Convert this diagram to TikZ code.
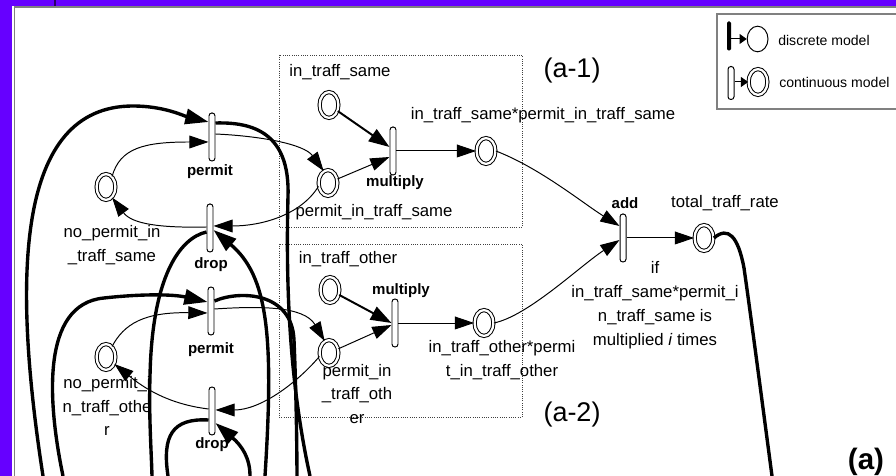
\documentclass[tikz,border=0pt]{standalone}
\usepackage{fontspec}
\setmainfont{Liberation Sans}
\usetikzlibrary{arrows.meta, shapes.geometric}

\definecolor{slidebg}{RGB}{102,0,255}
\definecolor{framegray}{RGB}{128,128,128}

\tikzset{
    placenode/.style = {ellipse, draw, double, double distance = 1.6pt, line width = 0.7pt,
        fill = white, minimum width = 0.47cm, minimum height = 0.645cm, inner sep = 0pt},
    barnode/.style = {rectangle, rounded corners = 2pt, draw, line width = 0.7pt, fill = white,
        minimum width = 0.15cm, minimum height = 1.2cm, inner sep = 0pt},
    thinarc/.style = {line width = 0.7pt, -{Triangle[length = 0.48cm, width = 0.32cm]}},
    midarc/.style = {line width = 1.4pt, -{Triangle[length = 0.52cm, width = 0.36cm]}},
    thickline/.style = {line width = 2.4pt},
    thickarc/.style = {thickline, -{Triangle[length = 0.58cm, width = 0.38cm]}},
    legarc/.style = {line width = 0.7pt, -{Triangle[length = 0.18cm, width = 0.25cm]}},
    dotbox/.style = {densely dotted, line width = 0.6pt, black!75},
    lbl/.style = {font = \fontsize{11.9}{17}\selectfont, align = center, inner sep = 0pt},
    blbl/.style = {font = \fontsize{10.7}{12}\selectfont\bfseries, inner sep = 0pt},
    legtext/.style = {font = \fontsize{10}{12}\selectfont, inner sep = 0pt, anchor = west},
}

\begin{document}
\begin{tikzpicture}
    \useasboundingbox (0, 0) rectangle (22.4, 11.9);
    \clip (0, 0) rectangle (22.4, 11.9);

    % Slide frame
    \fill[slidebg] (+0.000, +0.000) rectangle (+22.400, +11.900);
    \fill[white] (+0.300, +0.000) rectangle (+22.400, +11.750);
    \draw[framegray, line width = 1.2pt] (+0.365, +0.000) -- (+0.365, +11.720) -- (+22.400, +11.720);
    \draw[black!60!slidebg, line width = 0.8pt] (+1.375, +11.750) -- (+1.375, +11.900);

    % Sub-model boxes
    \draw[dotbox] (+6.975, +10.525) rectangle (+13.050, +6.225);
    \draw[dotbox] (+6.975, +5.800) rectangle (+13.050, +1.475);
    \node[font = \fontsize{19.2}{22}\selectfont] (subA) at (+14.300, +10.125) {(a-1)};
    \node[font = \fontsize{19.2}{22}\selectfont] (subB) at (+14.300, +1.525) {(a-2)};
    \node[font = \fontsize{21}{24}\selectfont\bfseries] (part) at (+21.650, +0.350) {(a)};

    % === Legend ===
    \draw[framegray, line width = 1pt] (+17.925, +9.175) rectangle (+22.700, +11.550);
    \node[rectangle, fill = black, rounded corners = 1pt, minimum width = 0.1cm,
        minimum height = 0.725cm, inner sep = 0pt] (discbar) at (+18.225, +11.000) {};
    \node[ellipse, draw, line width = 0.7pt, minimum width = 0.52cm, minimum height = 0.64cm,
        inner sep = 0pt] (disccirc) at (+18.940, +10.925) {};
    \draw[legarc] (discbar.east |- disccirc.west) -- (disccirc.west);
    \node[legtext] (disctext) at (+19.450, +10.900) {discrete model};

    \node[barnode, minimum height = 0.825cm] (contbar) at (+18.275, +9.825) {};
    \node[placenode] (contcirc) at (+18.950, +9.850) {};
    \draw[legarc] (contbar.east |- contcirc.west) -- (contcirc.west);
    \node[legtext] (conttext) at (+19.475, +9.850) {continuous model};

    % === Places ===
    \node[placenode] (npsame) at (+2.650, +7.225) {};
    \node[placenode] (npother) at (+2.650, +2.975) {};
    \node[placenode] (insame) at (+8.225, +9.275) {};
    \node[placenode] (pisame) at (+8.200, +7.325) {};
    \node[placenode] (prodsame) at (+12.150, +8.125) {};
    \node[placenode] (inother) at (+8.250, +4.650) {};
    \node[placenode] (piother) at (+8.225, +3.075) {};
    \node[placenode] (prodother) at (+12.100, +3.825) {};
    \node[placenode] (total) at (+17.600, +5.950) {};

    % === Transitions ===
    \node[barnode] (permitA) at (+5.300, +8.475) {};
    \node[barnode] (dropA) at (+5.250, +6.200) {};
    \node[barnode] (permitB) at (+5.275, +4.125) {};
    \node[barnode] (dropB) at (+5.300, +1.625) {};
    \node[barnode] (multA) at (+9.825, +8.125) {};
    \node[barnode] (multB) at (+9.875, +3.825) {};
    \node[barnode] (add) at (+15.575, +5.950) {};

    % Transition names
    \node[blbl] (permitA-name) at (+5.250, +7.600) {permit};
    \node[blbl] (dropA-name) at (+5.275, +5.275) {drop};
    \node[blbl] (permitB-name) at (+5.275, +3.150) {permit};
    \node[blbl] (dropB-name) at (+5.300, +0.775) {drop};
    \node[blbl] (multA-name) at (+9.875, +7.325) {multiply};
    \node[blbl] (multB-name) at (+10.025, +4.625) {multiply};
    \node[blbl] (add-name) at (+15.625, +6.825) {add};

    % Place names
    \node[lbl] (npsame-name) at (+2.800, +5.775) {no\_permit\_in\\\_traff\_same};
    \node[lbl] (npother-name) at (+2.675, +1.750) {no\_permit\_i\\n\_traff\_othe\\r};
    \node[lbl] (insame-name) at (+8.500, +10.100) {in\_traff\_same};
    \node[lbl] (pisame-name) at (+9.350, +6.600) {permit\_in\_traff\_same};
    \node[lbl] (prodsame-name) at (+13.575, +9.025) {in\_traff\_same*permit\_in\_traff\_same};
    \node[lbl] (inother-name) at (+8.700, +5.425) {in\_traff\_other};
    \node[lbl] (piother-name) at (+8.925, +2.050) {permit\_in\\\_traff\_oth\\er};
    \node[lbl] (prodother-name) at (+12.550, +2.900) {in\_traff\_other*permi\\t\_in\_traff\_other};
    \node[lbl] (total-name) at (+18.125, +6.825) {total\_traff\_rate};
    \node[lbl] (cond) at (+16.375, +4.275) {if\\in\_traff\_same*permit\_i\\n\_traff\_same is\\multiplied \textit{i} times};

    % === Thin arcs, upper loop ===
    \draw[thinarc] (npsame.60) .. controls (+3.000, +8.200) and (+3.600, +8.350) .. ([yshift = -0.125cm]permitA.west);
    \draw[thinarc] ([yshift = +0.075cm]permitA.east) .. controls (+6.500, +8.500) and (+7.600, +8.300) .. (pisame.110);
    \draw[thinarc] (pisame.200) .. controls (+7.500, +6.500) and (+6.500, +6.250) .. ([yshift = +0.050cm]dropA.east);
    \draw[thinarc] ([yshift = +0.025cm]dropA.west) .. controls (+4.000, +6.200) and (+3.300, +6.300) .. (npsame.-60);
    \draw[midarc] (insame) -- ([yshift = +0.100cm]multA.west);
    \draw[thinarc] (pisame) -- ([yshift = -0.150cm]multA.west);
    \draw[thinarc] (multA) -- (prodsame);

    % === Thin arcs, lower loop ===
    \draw[thinarc] (npother.60) .. controls (+3.100, +3.800) and (+3.600, +4.100) .. ([yshift = -0.050cm]permitB.west);
    \draw[thinarc] ([yshift = +0.050cm]permitB.east) .. controls (+6.500, +4.250) and (+7.600, +4.250) .. (piother.110);
    \draw[thinarc] (piother.200) .. controls (+7.400, +2.300) and (+6.500, +1.650) .. ([yshift = +0.025cm]dropB.east);
    \draw[thinarc] ([yshift = +0.050cm]dropB.west) .. controls (+4.200, +1.800) and (+3.600, +2.200) .. (npother.-40);
    \draw[midarc] (inother) -- (multB.west);
    \draw[thinarc] (piother) -- ([yshift = -0.050cm]multB.west);
    \draw[thinarc] (multB) -- (prodother);

    % === Sum ===
    \draw[thinarc] (prodsame.east) .. controls (+13.500, +7.700) and (+14.600, +6.800) .. ([yshift = +0.300cm]add.west);
    \draw[thinarc] (prodother.east) .. controls (+13.200, +4.000) and (+14.500, +5.250) .. ([yshift = -0.050cm]add.west);
    \draw[thinarc] (add) -- (total);

    % === Thick arcs leaving the page ===
    \coordinate (permitA-in) at (+1.075, +0.000);
    \coordinate (permitA-out) at (+7.750, +0.000);
    \coordinate (dropA-out) at (+3.800, +0.000);
    \coordinate (dropA-in) at (+6.625, +0.000);
    \coordinate (permitB-in) at (+1.575, +0.000);
    \coordinate (permitB-out) at (+7.425, +0.000);
    \coordinate (dropB-out) at (+4.200, +0.000);
    \coordinate (dropB-in) at (+6.250, +0.000);
    \coordinate (total-out) at (+19.300, +0.000);

    \draw[thickarc] (permitA-in) .. controls (+0.300, +5.000) and (+0.400, +9.250) .. (+3.325, +9.250)
        .. controls (+4.100, +9.250) and (+4.600, +9.000) .. ([yshift = +0.375cm]permitA.west);
    \draw[thickline] ([yshift = +0.350cm]permitA.east) .. controls (+6.300, +8.850) and (+7.250, +8.600) .. (+7.200, +7.000)
        .. controls (+7.150, +5.000) and (+7.200, +2.500) .. (permitA-out);
    \draw[thickline] ([yshift = -0.100cm]dropA.west) .. controls (+4.500, +5.950) and (+3.800, +5.000) .. (+3.750, +2.500)
        .. controls (+3.720, +1.500) and (+3.780, +0.700) .. (dropA-out);
    \draw[thickarc] (dropA-in) .. controls (+6.850, +3.500) and (+6.700, +5.000) .. ([yshift = -0.050cm]dropA.east);
    \draw[thickarc] (permitB-in) .. controls (+1.200, +1.800) and (+1.000, +4.300) .. (+2.600, +4.450)
        .. controls (+3.500, +4.550) and (+4.300, +4.550) .. ([yshift = +0.225cm]permitB.west);
    \draw[thickline] ([yshift = +0.250cm]permitB.east) .. controls (+6.000, +4.650) and (+7.300, +4.600) .. (+7.350, +3.400)
        .. controls (+7.400, +2.200) and (+7.420, +1.000) .. (permitB-out);
    \draw[thickline] ([yshift = -0.225cm]dropB.west) .. controls (+4.300, +1.450) and (+4.050, +1.000) .. (dropB-out);
    \draw[thickarc] (dropB-in) .. controls (+6.250, +0.450) and (+6.050, +0.750) .. ([yshift = -0.300cm]dropB.east);
    \draw[thickline] (total.east) .. controls (+18.200, +6.250) and (+18.450, +6.000) .. (+18.600, +5.200)
        .. controls (+18.800, +3.800) and (+19.100, +1.500) .. (total-out);
\end{tikzpicture}
\end{document}
